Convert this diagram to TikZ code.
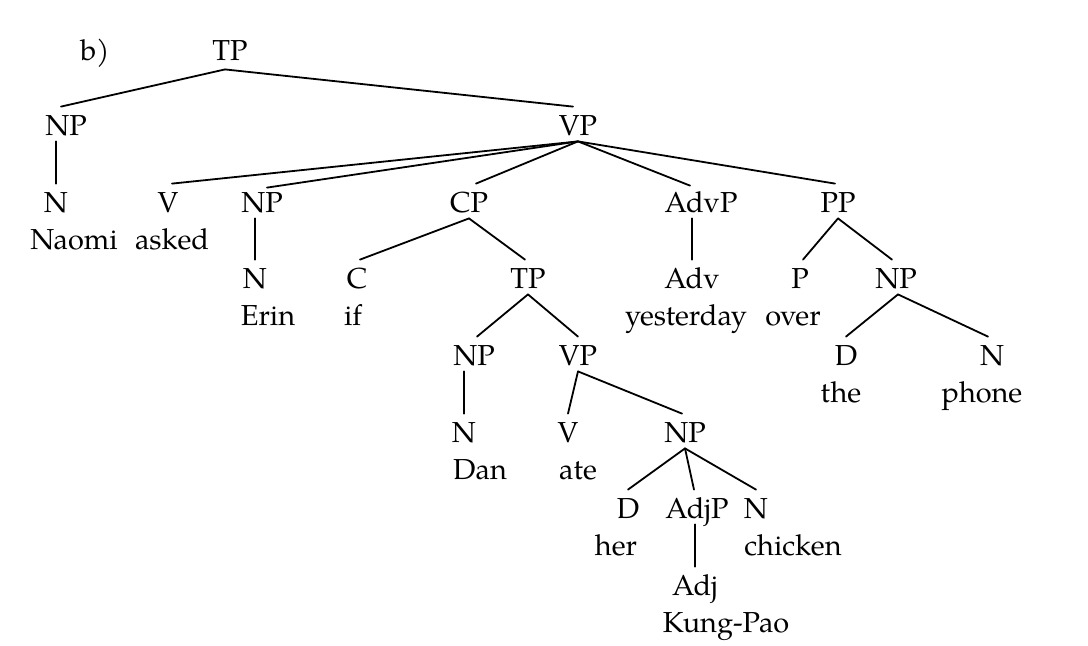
\documentclass[tikz,border=0pt]{standalone}
\usepackage{fontspec}
\setmainfont{TeX Gyre Pagella}
\begin{document}
\begin{tikzpicture}[x=0.5pt,y=-0.5pt,
  lbl/.style={anchor=base,inner sep=0pt,text height=14pt,text depth=3pt,font=\fontsize{14.45}{17}\selectfont},
  wrd/.style={anchor=base,inner sep=0pt,font=\fontsize{14.45}{17}\selectfont},
  edge/.style={line width=0.9pt,line cap=round}]
\path[use as bounding box] (0,0) rectangle (1088,645);
% labels
\node[wrd] (b) at (95,60) {b)};
\node[lbl] (tp0) at (230,60) {TP};
\node[lbl] (np1) at (66,135) {NP};
\node[lbl] (n1) at (56,212) {N};
\node[wrd] (w1) at (74,249) {Naomi};
\node[lbl] (vp1) at (578,135) {VP};
\node[lbl] (v1) at (168,212) {V};
\node[wrd] (w2) at (172,249) {asked};
\node[lbl] (np2) at (262,212) {NP};
\node[lbl] (n2) at (255,288) {N};
\node[wrd] (w3) at (268,325) {Erin};
\node[lbl] (cp) at (469,212) {CP};
\node[lbl] (c) at (357,288) {C};
\node[wrd] (w4) at (353,325) {if};
\node[lbl] (tp1) at (528,288) {TP};
\node[lbl] (np3) at (474,365) {NP};
\node[lbl] (n3) at (464,442) {N};
\node[wrd] (w5) at (480,479) {Dan};
\node[lbl] (vp2) at (578,365) {VP};
\node[lbl] (v2) at (568,442) {V};
\node[wrd] (w6) at (578,479) {ate};
\node[lbl] (np4) at (685,442) {NP};
\node[lbl] (d1) at (628,518) {D};
\node[wrd] (w7) at (616,555) {her};
\node[lbl] (adjp) at (697,518) {AdjP};
\node[lbl] (adj) at (695,595) {Adj};
\node[wrd] (w8) at (726,632) {Kung-Pao};
\node[lbl] (n4) at (756,518) {N};
\node[wrd] (w9) at (793,555) {chicken};
\node[lbl] (advp) at (701,212) {AdvP};
\node[lbl] (adv) at (692,288) {Adv};
\node[wrd] (w10) at (686,325) {yesterday};
\node[lbl] (pp) at (838,212) {PP};
\node[lbl] (p) at (800,288) {P};
\node[wrd] (w11) at (793,325) {over};
\node[lbl] (np5) at (896,288) {NP};
\node[lbl] (d2) at (846,365) {D};
\node[wrd] (w12) at (841,402) {the};
\node[lbl] (n5) at (992,365) {N};
\node[wrd] (w13) at (982,402) {phone};
% edges
\draw[edge] ([xshift=-2.5pt,yshift=-1.5pt]tp0.south) -- ([xshift=-2.5pt]np1.north);
\draw[edge] ([xshift=-2.5pt,yshift=-1.5pt]tp0.south) -- ([xshift=-2.5pt]vp1.north);
\draw[edge] (n1.north) -- (n1.north |- np1.south);
\draw[edge] (vp1.south) -- ([xshift=2pt]v1.north);
\draw[edge] (vp1.south) -- ([xshift=2.5pt,yshift=-2pt]np2.north);
\draw[edge] (vp1.south) -- ([xshift=3.5pt]cp.north);
\draw[edge] (vp1.south) -- ([xshift=-5.5pt,yshift=-1pt]advp.north);
\draw[edge] (vp1.south) -- ([xshift=-1.5pt]pp.north);
\draw[edge] (n2.north) -- (n2.north |- np2.south);
\draw[edge] (adv.north) -- (adv.north |- advp.south);
\draw[edge] (cp.south) -- ([xshift=1.5pt]c.north);
\draw[edge] (cp.south) -- ([xshift=-1.5pt]tp1.north);
\draw[edge] (tp1.south) -- ([xshift=1.5pt]np3.north);
\draw[edge] (tp1.south) -- (vp2.north);
\draw[edge] (n3.north) -- (n3.north |- np3.south);
\draw[edge] (vp2.south) -- (v2.north);
\draw[edge] (vp2.south) -- ([xshift=-1.5pt]np4.north);
\draw[edge] (np4.south) -- (d1.north);
\draw[edge] (np4.south) -- ([xshift=-1.5pt]adjp.north);
\draw[edge] (np4.south) -- (n4.north);
\draw[edge] (adj.north) -- (adj.north |- adjp.south);
\draw[edge] (pp.south) -- ([xshift=1.5pt]p.north);
\draw[edge] (pp.south) -- ([xshift=-2pt]np5.north);
\draw[edge] ([xshift=1pt]np5.south) -- (d2.north);
\draw[edge] ([xshift=1pt]np5.south) -- ([xshift=-2pt]n5.north);
\end{tikzpicture}
\end{document}
